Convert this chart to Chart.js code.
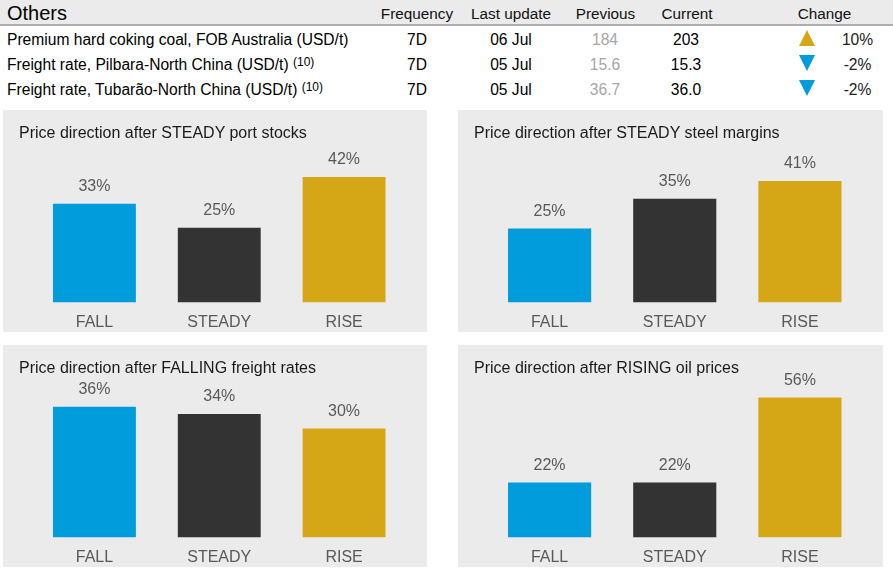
<!DOCTYPE html>
<html><head><meta charset="utf-8">
<script src="https://cdn.jsdelivr.net/npm/chart.js@4"></script>
<style>
body{margin:0;background:#fff;width:893px;height:579px;overflow:hidden;position:relative;font-family:"Liberation Sans",Arial,sans-serif;}
.t{position:absolute;white-space:nowrap;line-height:1;}
.panel{position:absolute;background:#ebebeb;overflow:hidden;}
.panel canvas{position:absolute;left:0;top:0;}
.tri{position:absolute;width:0;height:0;border-left:8.5px solid transparent;border-right:8.5px solid transparent;}
</style></head><body>
<div style="position:absolute;left:0;top:0;width:893px;height:23.5px;background:#ebebeb;border-bottom:2px solid #adadad"></div>
<script>
// ---- table data ----
const tableTitle = 'Others';
const columnHeaders = ['Frequency','Last update','Previous','Current','Change'];
const rowNames = ['Premium hard coking coal, FOB Australia (USD/t)','Freight rate, Pilbara-North China (USD/t)','Freight rate, Tubarão-North China (USD/t)'];
const rowNotes = ['', '(10)', '(10)'];
const frequency = ['7D','7D','7D'];
const lastUpdate = ['06 Jul','05 Jul','05 Jul'];
const previous = ['184','15.6','36.7'];
const current = ['203','15.3','36.0'];
const change = ['10%','-2%','-2%'];
const direction = ['up','down','down'];

// ---- chart data ----
const categories = ['FALL','STEADY','RISE'];
const portStocks = [33,25,42];
const steelMargins = [25,35,41];
const freightRates = [36,34,30];
const oilPrices = [22,22,56];
const panelTitles = ['Price direction after STEADY port stocks','Price direction after STEADY steel margins','Price direction after FALLING freight rates','Price direction after RISING oil prices'];
const panelValues = [portStocks, steelMargins, freightRates, oilPrices];
const axisMax = [51, 51.5, 42, 61];

const BLUE='#009cdc', DARK='#333333', GOLD='#d5a717';
const barColors=[BLUE,DARK,GOLD];

function txt(str,x,base,fs,align,color,html){
  const d=document.createElement('div'); d.className='t';
  d.style.fontSize=fs+'px'; d.style.color=color;
  d.style.top=(base-0.8465*fs)+'px'; d.style.left=x+'px';
  if(align==='center') d.style.transform='translateX(-50%)';
  else if(align==='right') d.style.transform='translateX(-100%)';
  if(html) d.innerHTML=str; else d.textContent=str;
  document.body.appendChild(d);
}

// table
txt(tableTitle,7,20,20,'left','#000');
const colX=[417,511,605.5,687,824.5];
columnHeaders.forEach((h,i)=>txt(h,colX[i],18.8,15.3,'center','#111'));
const rowBase=[45.3,70.3,95.3];
const FS=15.6;
rowNames.forEach((n,i)=>{
  const b=rowBase[i];
  let html=n.replace(/&/g,'&amp;');
  if(rowNotes[i]) html+=' <span style="font-size:12px;position:relative;top:-4.5px">'+rowNotes[i]+'</span>';
  txt(html,7,b,FS,'left','#000',true);
  txt(frequency[i],417,b,FS,'center','#000');
  txt(lastUpdate[i],511,b,FS,'center','#000');
  txt(previous[i],605,b,FS,'center','#a6a6a6');
  txt(current[i],686,b,FS,'center','#000');
  txt(change[i],857.5,b,FS,'center','#222');
  const t=document.createElement('div'); t.className='tri';
  t.style.left=(807-8.5)+'px'; t.style.top=(b-15.5)+'px';
  if(direction[i]==='up') t.style.borderBottom='16px solid '+GOLD;
  else t.style.borderTop='16px solid '+BLUE;
  document.body.appendChild(t);
});

// value labels plugin
const valueLabels={
  id:'valueLabels',
  afterDatasetsDraw(chart){
    const ctx=chart.ctx; ctx.save();
    ctx.font='16px "Liberation Sans", Arial, sans-serif';
    ctx.fillStyle='#595959'; ctx.textAlign='center'; ctx.textBaseline='middle';
    const meta=chart.getDatasetMeta(0);
    meta.data.forEach((el,i)=>{
      ctx.fillText(chart.data.datasets[0].data[i]+'%', el.x, el.y-17);
    });
    ctx.restore();
  }
};

const panels=[{x:3,y:110,w:424,h:222},{x:458,y:110,w:425,h:222},{x:3,y:345,w:424,h:222},{x:458,y:345,w:425,h:222}];
panels.forEach((p,i)=>{
  const d=document.createElement('div'); d.className='panel';
  d.style.left=p.x+'px'; d.style.top=p.y+'px'; d.style.width=p.w+'px'; d.style.height=p.h+'px';
  const c=document.createElement('canvas'); c.width=p.w; c.height=p.h;
  c.style.width=p.w+'px'; c.style.height=p.h+'px';
  d.appendChild(c); document.body.appendChild(d);
  new Chart(c,{
    type:'bar',
    data:{labels:categories,datasets:[{data:panelValues[i],backgroundColor:barColors,borderWidth:0,barPercentage:0.664,categoryPercentage:1}]},
    options:{
      responsive:false,animation:false,
      layout:{padding:{left:29,right:20.5,top:40,bottom:-9.7}},
      scales:{
        x:{grid:{display:false,drawTicks:false},border:{display:false},
           ticks:{color:'#595959',padding:10,font:{size:16,family:'"Liberation Sans", Arial, sans-serif'}}},
        y:{display:false,min:0,max:axisMax[i]}
      },
      plugins:{legend:{display:false},tooltip:{enabled:false},title:{display:false}}
    },
    plugins:[valueLabels]
  });
  txt(panelTitles[i],p.x+16,p.y+28.5,16,'left','#1a1a1a');
});
</script>
</body></html>
